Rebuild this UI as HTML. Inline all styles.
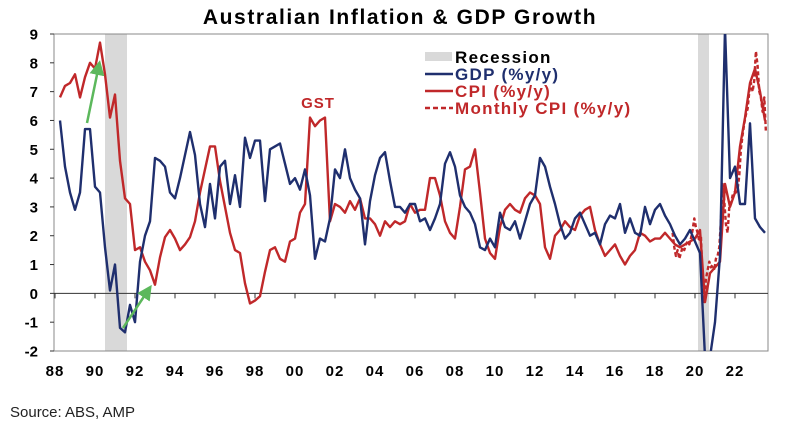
<!DOCTYPE html>
<html><head><meta charset="utf-8"><style>
html,body{margin:0;padding:0;background:#fff;width:788px;height:430px;overflow:hidden;font-family:"Liberation Sans",sans-serif}
svg{display:block}
</style></head><body>
<svg id="chart" width="788" height="430" viewBox="0 0 788 430" xmlns="http://www.w3.org/2000/svg" font-family="Liberation Sans, sans-serif">
<text x="400" y="24" text-anchor="middle" font-size="21" font-weight="bold" letter-spacing="1.6" fill="#000">Australian Inflation &amp; GDP Growth</text>
<g id="plot"></g>
<text x="10" y="417" font-size="15" fill="#222">Source: ABS, AMP</text>
</svg>
<script>
const yTicks=[9,8,7,6,5,4,3,2,1,0,-1,-2];
const xTickLabels=["88","90","92","94","96","98","00","02","04","06","08","10","12","14","16","18","20","22"];
const xTickYears=[1988,1990,1992,1994,1996,1998,2000,2002,2004,2006,2008,2010,2012,2014,2016,2018,2020,2022];
const recessions=[[1990.5,1991.6],[2020.15,2020.7]];
const quarterStart=1988.25;
const gdpValues=[6.0,4.4,3.5,2.9,3.5,5.7,5.7,3.7,3.5,1.6,0.1,1.0,-1.2,-1.35,-0.4,-1.0,1.1,2.0,2.5,4.7,4.6,4.4,3.5,3.3,4.0,4.8,5.6,4.8,3.1,2.3,3.8,2.6,4.4,4.6,3.1,4.1,3.0,5.4,4.7,5.3,5.3,3.2,5.0,5.1,5.2,4.5,3.8,4.0,3.6,4.3,3.4,1.2,1.9,1.8,2.6,4.3,4.0,5.0,4.0,3.6,3.3,1.7,3.2,4.1,4.7,4.9,3.9,3.0,3.0,2.8,3.1,3.1,2.5,
2.6,2.2,2.6,3.1,4.5,4.9,4.4,3.4,3.0,2.8,2.4,1.6,1.5,1.9,1.6,2.8,2.3,2.2,2.5,1.9,2.5,3.1,3.4,4.7,4.4,3.7,3.1,2.4,1.9,2.1,2.6,2.8,2.4,2.0,2.1,1.7,2.4,2.7,2.6,3.1,2.1,2.6,2.1,2.0,3.0,2.4,2.9,3.1,2.7,2.4,2.0,1.7,1.9,2.2,1.8,
1.4,-6.3,-3.7,-1.0,1.3,9.6,4.0,4.4,3.1,3.1,5.9,2.6,2.3,2.1];
const cpiValues=[6.8,7.2,7.3,7.6,6.8,7.5,8.0,7.8,8.7,7.6,6.1,6.9,4.6,3.3,3.1,1.5,1.6,1.1,0.8,0.3,1.25,1.95,2.2,1.9,1.5,1.7,1.95,2.5,3.5,4.3,5.1,5.1,3.9,3.0,2.1,1.5,1.4,0.35,-0.35,-0.25,-0.1,0.75,1.5,1.6,1.2,1.1,1.8,1.9,2.8,3.1,6.1,5.8,6.0,6.1,2.5,3.1,3.0,2.8,3.2,2.9,3.3,2.6,2.6,2.4,2.0,2.5,2.3,2.5,2.4,2.5,3.1,2.8,2.9,
2.9,4.0,4.0,3.4,2.5,2.1,1.9,3.0,4.3,4.4,5.0,3.5,1.9,1.4,1.2,2.3,2.9,3.1,2.9,2.8,3.3,3.5,3.4,3.1,1.6,1.2,2.0,2.2,2.5,2.3,2.2,2.7,2.9,3.0,2.2,1.7,1.3,1.5,1.7,1.3,1.0,1.3,1.5,2.1,2.0,1.8,1.9,1.9,2.1,1.9,1.7,1.6,1.7,1.8,1.9,
2.2,-0.3,0.7,0.9,1.1,3.8,3.0,3.5,5.1,6.1,7.3,7.8,7.0,6.0];
const monthlyStart=2018.88;
const monthlyCpiValues=[2.1,1.6,1.3,1.5,1.2,1.4,1.6,1.5,1.7,1.8,1.7,1.9,2.2,2.6,2.3,2.1,1.8,2.0,0.5,-0.3,0.5,0.8,1.1,0.9,1.0,0.8,1.2,1.3,1.6,2.5,3.8,3.2,2.4,2.1,3.0,3.1,3.4,3.5,3.5,3.6,4.1,5.0,5.5,5.9,6.2,6.4,7.0,7.3,7.0,7.4,8.4,7.9,7.0,6.8,6.3,6.8,5.6];

const L=54,R=768,T=34,B=351;
const xS=y=>55+(y-1988)*20;
const yS=v=>T+(9-v)*(B-T)/11;
const yC=v=>Math.max(T-6,Math.min(B+6,yS(v)));
const NS="http://www.w3.org/2000/svg";
const g=document.getElementById('plot');
function mk(t,a,p){const e=document.createElementNS(NS,t);for(const k in a)e.setAttribute(k,a[k]);(p||g).appendChild(e);return e;}
const clip=mk('clipPath',{id:'pc'});mk('rect',{x:L,y:T,width:R-L,height:B-T},clip);
recessions.forEach(r=>{const e=mk('rect',{x:xS(r[0]),y:T,width:xS(r[1])-xS(r[0]),height:B-T,fill:'#d9d9d9'});

});
const frame=mk('rect',{x:L,y:T,width:R-L,height:B-T,fill:'none',stroke:'#888','stroke-width':1});


const zl=mk('line',{x1:L,x2:R,y1:yS(0),y2:yS(0),stroke:'#333','stroke-width':1});


yTicks.forEach(v=>{mk('line',{x1:L-4,x2:L,y1:yS(v),y2:yS(v),stroke:'#333'});
const t=mk('text',{x:38,y:yS(v)+5.5,'text-anchor':'end','font-size':15,'font-weight':'bold',fill:'#000'});t.textContent=v;

});
xTickYears.forEach((y,i)=>{mk('line',{x1:xS(y),x2:xS(y),y1:yS(0),y2:yS(0)+5,stroke:'#333'});
const t=mk('text',{x:xS(y),y:376,'text-anchor':'middle','font-size':15,'font-weight':'bold','letter-spacing':1,fill:'#000'});t.textContent=xTickLabels[i];

});
function line(vals,start,step,color,dash,name){const d=vals.map((v,i)=>(i?'L':'M')+xS(start+i*step).toFixed(1)+','+yC(v).toFixed(1)).join('');
const p=mk('path',{d:d,fill:'none',stroke:color,'stroke-width':2.4,'stroke-linejoin':'round','clip-path':'url(#pc)'});
if(dash)p.setAttribute('stroke-dasharray',dash);

}
line(monthlyCpiValues,monthlyStart,1/12,'#c0282a','4 2.5','monthly-cpi-line');
line(cpiValues,quarterStart,0.25,'#c0282a',null,'cpi-line');
line(gdpValues,quarterStart,0.25,'#1f2f6e',null,'gdp-line');
const gst=mk('text',{x:318,y:108,'text-anchor':'middle','font-size':15,'font-weight':'bold','letter-spacing':1,fill:'#c0282a'});gst.textContent='GST';


mk('defs',{}).innerHTML='<marker id="ah" markerWidth="6" markerHeight="6" refX="4" refY="3" orient="auto"><path d="M0,0L6,3L0,6z" fill="#5cb85c"/></marker>';
[[87,123,99,65],[123,328,149,289]].forEach(a=>{const e=mk('line',{x1:a[0],y1:a[1],x2:a[2],y2:a[3],stroke:'#5cb85c','stroke-width':2.5,'marker-end':'url(#ah)'});

});
const lg=mk('g',{});


mk('rect',{x:425,y:52,width:27,height:9,fill:'#d9d9d9'},lg);
const items=[['Recession','#000',null,62],['GDP (%y/y)','#1f2f6e','',79],['CPI (%y/y)','#c0282a','',96],['Monthly CPI (%y/y)','#c0282a','5 3',113]];
items.forEach((it,i)=>{if(i>0){const l=mk('line',{x1:425,x2:453,y1:it[3]-5,y2:it[3]-5,stroke:it[1],'stroke-width':2.4},lg);if(it[2])l.setAttribute('stroke-dasharray',it[2]);}
const t=mk('text',{x:455,y:it[3]+1,'font-size':17,'font-weight':'bold','letter-spacing':1.3,fill:it[1]},lg);t.textContent=it[0];

});
</script>
</body></html>
